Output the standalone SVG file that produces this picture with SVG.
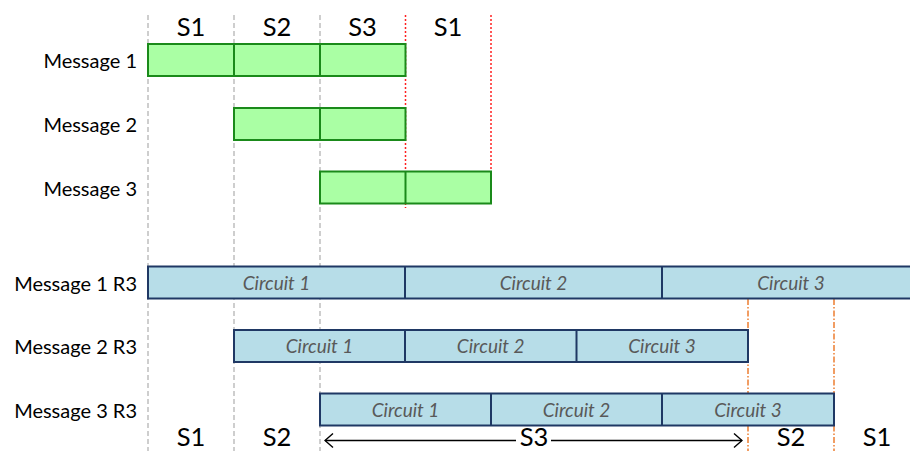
<svg xmlns="http://www.w3.org/2000/svg" width="910" height="451" viewBox="0 0 910 451">
  <style>
    .lbl { font-family: Lato, "Open Sans", "Liberation Sans", sans-serif; font-size: 20px; fill: #000; text-anchor: end; }
    .slot { font-family: Lato, "Open Sans", "Liberation Sans", sans-serif; font-size: 25.5px; fill: #000; text-anchor: middle; }
    .circ { font-family: Lato, "Open Sans", "Liberation Sans", sans-serif; font-size: 19px; font-style: italic; fill: #595959; text-anchor: middle; }
    .green { fill: #aaffa4; stroke: #1a8a1a; stroke-width: 2; }
    .gdiv { stroke: #1a8a1a; stroke-width: 2; }
    .blue { fill: #b7dde8; stroke: #1f3864; stroke-width: 2; }
    .bdiv { stroke: #1f3864; stroke-width: 2; }
    .gray { stroke: #bfbfbf; stroke-width: 1.5; stroke-dasharray: 5 3; }
    .red { stroke: #ff2020; stroke-width: 1.5; stroke-dasharray: 2 2; }
    .orange { stroke: #ed7d31; stroke-width: 1.5; stroke-dasharray: 6 2 1.5 2; }
    .arrow { stroke: #000; stroke-width: 1.3; fill: none; }
  </style>
  <defs>
    <marker id="open" viewBox="0 0 10 16" refX="9" refY="8" markerWidth="10" markerHeight="16" markerUnits="userSpaceOnUse" orient="auto-start-reverse">
      <path d="M1,1 L9,8 L1,15" fill="none" stroke="#000" stroke-width="1.4"/>
    </marker>
  </defs>
  <rect width="910" height="451" fill="#ffffff"/>

  <g id="guides">
    <line class="gray" x1="148" y1="15" x2="148" y2="451"/>
    <line class="gray" x1="234" y1="15" x2="234" y2="451"/>
    <line class="gray" x1="320" y1="15" x2="320" y2="451"/>
    <line class="red" x1="405.5" y1="15" x2="405.5" y2="208"/>
    <line class="red" x1="491" y1="15" x2="491" y2="172"/>
    <line class="orange" x1="748" y1="299" x2="748" y2="451"/>
    <line class="orange" x1="834" y1="299" x2="834" y2="451"/>
  </g>

  <g id="slots-top">
    <text class="slot" x="191" y="35.5">S1</text>
    <text class="slot" x="277" y="35.5">S2</text>
    <text class="slot" x="362.5" y="35.5">S3</text>
    <text class="slot" x="448" y="35.5">S1</text>
  </g>

  <g id="message1">
    <text class="lbl" x="137" y="68.3">Message 1</text>
    <rect class="green" x="148" y="44" width="257.5" height="32"/>
    <line class="gdiv" x1="234" y1="44" x2="234" y2="76"/>
    <line class="gdiv" x1="320" y1="44" x2="320" y2="76"/>
  </g>
  <g id="message2">
    <text class="lbl" x="137" y="131.7">Message 2</text>
    <rect class="green" x="234" y="108" width="171.5" height="32"/>
    <line class="gdiv" x1="320" y1="108" x2="320" y2="140"/>
  </g>
  <g id="message3">
    <text class="lbl" x="137" y="195.7">Message 3</text>
    <rect class="green" x="320" y="171.5" width="171" height="32"/>
    <line class="gdiv" x1="405.5" y1="171.5" x2="405.5" y2="203.5"/>
  </g>

  <g id="message1r3">
    <text class="lbl" x="137" y="290.7">Message 1 R3</text>
    <rect class="blue" x="148" y="266.5" width="773" height="32"/>
    <line class="bdiv" x1="405" y1="266.5" x2="405" y2="298.5"/>
    <line class="bdiv" x1="662" y1="266.5" x2="662" y2="298.5"/>
    <text class="circ" x="276.5" y="289.5">Circuit 1</text>
    <text class="circ" x="533.5" y="289.5">Circuit 2</text>
    <text class="circ" x="791" y="289.5">Circuit 3</text>
  </g>
  <g id="message2r3">
    <text class="lbl" x="137" y="354.3">Message 2 R3</text>
    <rect class="blue" x="234" y="330" width="514" height="32"/>
    <line class="bdiv" x1="405" y1="330" x2="405" y2="362"/>
    <line class="bdiv" x1="576.5" y1="330" x2="576.5" y2="362"/>
    <text class="circ" x="319.5" y="353">Circuit 1</text>
    <text class="circ" x="490.7" y="353">Circuit 2</text>
    <text class="circ" x="662" y="353">Circuit 3</text>
  </g>
  <g id="message3r3">
    <text class="lbl" x="137" y="417.7">Message 3 R3</text>
    <rect class="blue" x="320" y="393.5" width="514" height="32"/>
    <line class="bdiv" x1="491" y1="393.5" x2="491" y2="425.5"/>
    <line class="bdiv" x1="662" y1="393.5" x2="662" y2="425.5"/>
    <text class="circ" x="405.5" y="416.5">Circuit 1</text>
    <text class="circ" x="576.5" y="416.5">Circuit 2</text>
    <text class="circ" x="748" y="416.5">Circuit 3</text>
  </g>

  <g id="connectors">
    <line class="arrow" x1="325" y1="440.5" x2="516" y2="440.5" marker-start="url(#open)"/>
    <line class="arrow" x1="551" y1="440.5" x2="742" y2="440.5" marker-end="url(#open)"/>
  </g>

  <g id="slots-bottom">
    <text class="slot" x="191" y="445.5">S1</text>
    <text class="slot" x="277" y="445.5">S2</text>
    <text class="slot" x="534" y="445.5">S3</text>
    <text class="slot" x="791" y="445.5">S2</text>
    <text class="slot" x="877" y="445.5">S1</text>
  </g>
</svg>
